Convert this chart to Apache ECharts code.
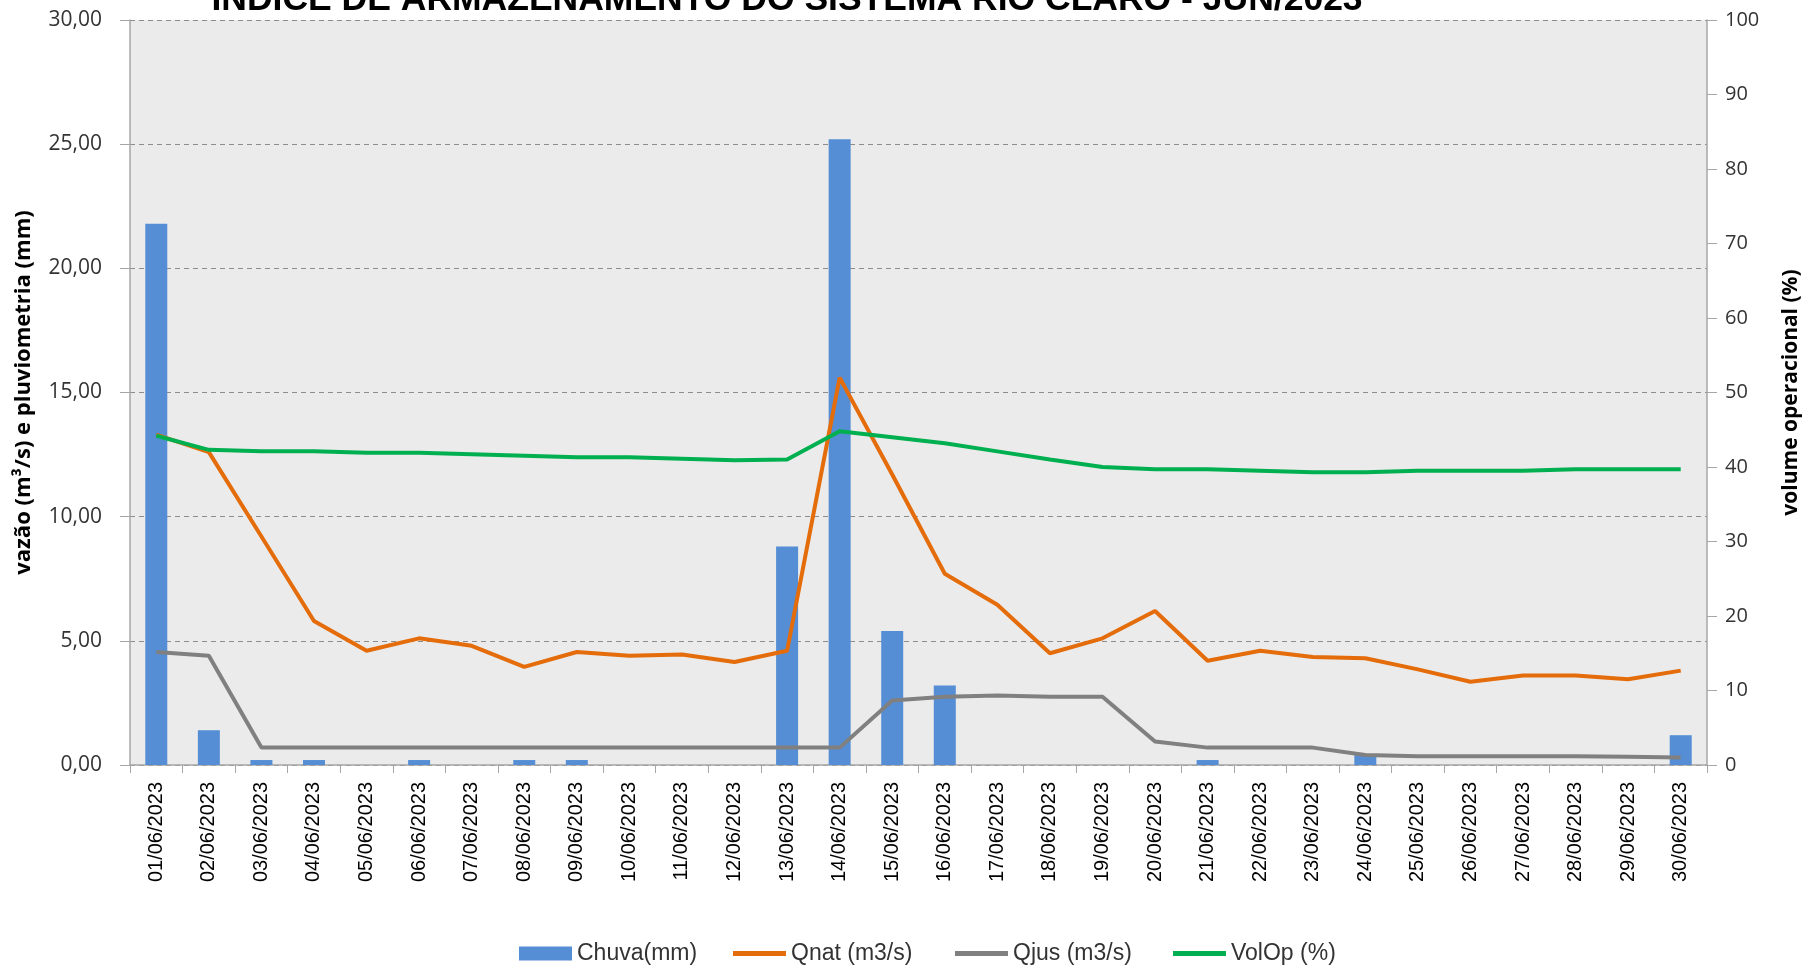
<!DOCTYPE html>
<html>
<head>
<meta charset="utf-8">
<script src="https://cdn.jsdelivr.net/npm/echarts@6/dist/echarts.min.js"></script>
<style>
    html, body { margin: 0; padding: 0; background: #fff; }
    #chart { width: 1804px; height: 968px; }
</style>
</head>
<body>
<div id="chart"></div>
<script>
var dias = ['01/06/2023', '02/06/2023', '03/06/2023', '04/06/2023', '05/06/2023', '06/06/2023',
    '07/06/2023', '08/06/2023', '09/06/2023', '10/06/2023', '11/06/2023', '12/06/2023',
    '13/06/2023', '14/06/2023', '15/06/2023', '16/06/2023', '17/06/2023', '18/06/2023',
    '19/06/2023', '20/06/2023', '21/06/2023', '22/06/2023', '23/06/2023', '24/06/2023',
    '25/06/2023', '26/06/2023', '27/06/2023', '28/06/2023', '29/06/2023', '30/06/2023'];

// chuva (mm)
var chuva = [21.8, 1.4, 0.2, 0.2, 0, 0.2, 0, 0.2, 0.2, 0, 0, 0,
    8.8, 25.2, 5.4, 3.2, 0, 0, 0, 0, 0.2, 0, 0, 0.4, 0, 0, 0, 0, 0, 1.2];
// vazao natural (m3/s)
var qnat = [13.3, 12.6, 9.2, 5.8, 4.6, 5.1, 4.8, 3.95, 4.55, 4.4, 4.45, 4.15,
    4.6, 15.6, 11.7, 7.7, 6.45, 4.5, 5.1, 6.2, 4.2, 4.6, 4.35, 4.3, 3.85, 3.35, 3.6, 3.6, 3.45, 3.8];
// vazao jusante (m3/s)
var qjus = [4.55, 4.4, 0.7, 0.7, 0.7, 0.7, 0.7, 0.7, 0.7, 0.7, 0.7, 0.7,
    0.7, 0.7, 2.6, 2.75, 2.8, 2.75, 2.75, 0.95, 0.7, 0.7, 0.7, 0.4, 0.35, 0.35, 0.35, 0.35, 0.33, 0.3];
// volume operacional (%)
var volop = [44.2, 42.3, 42.1, 42.1, 41.9, 41.9, 41.7, 41.5, 41.3, 41.3, 41.1, 40.9,
    41.0, 44.8, 44.0, 43.2, 42.1, 41.0, 40.0, 39.7, 39.7, 39.5, 39.3, 39.3, 39.5, 39.5, 39.5, 39.7, 39.7, 39.7];

var fonte = "'Liberation Sans', Arial, sans-serif";
var fonteEixo = "'Open Sans', 'Liberation Sans', sans-serif";

// legenda: uma caixa por item para poder posicionar como no excel
function legenda(nome, x, altura) {
    return {
        data: [{ name: nome, icon: 'rect' }],
        left: x,
        top: 937,
        itemWidth: 53,
        itemHeight: altura,
        itemGap: 4,
        textStyle: { fontSize: 23, color: '#333', fontFamily: fonte }
    };
}

var myChart = echarts.init(document.getElementById('chart'));
var option = {
    backgroundColor: '#FFFFFF',
    animation: false,
    textStyle: { fontFamily: fonte },
    title: {
        text: 'ÍNDICE DE ARMAZENAMENTO DO SISTEMA RIO CLARO - JUN/2023',
        left: 782,
        textAlign: 'center',
        top: -23,
        textStyle: { fontSize: 35.5, fontWeight: 'bold', color: '#000', fontFamily: fonte }
    },
    legend: [
        legenda('Chuva(mm)', 514, 14),
        legenda('Qnat (m3/s)', 728, 5),
        legenda('Qjus (m3/s)', 950, 5),
        legenda('VolOp (%)', 1168, 5)
    ],
    grid: {
        left: 130,
        right: 97,
        top: 20,
        bottom: 203,
        outerBoundsMode: 'none',
        containLabel: false,
        show: true,
        backgroundColor: '#EBEBEB',
        borderWidth: 0
    },
    xAxis: [{
        type: 'category',
        data: dias,
        boundaryGap: true,
        axisLine: { lineStyle: { color: '#A6A6A6', width: 1.5 } },
        axisTick: { show: true, alignWithLabel: false, length: 8, lineStyle: { color: '#A6A6A6' } },
        axisLabel: {
            rotate: 90,
            interval: 0,
            margin: 17,
            fontSize: 20,
            color: '#000',
            fontFamily: fonte
        }
    }],
    yAxis: [{
        type: 'value',
        min: 0,
        max: 30,
        interval: 5,
        name: 'vazão (m³/s) e pluviometria (mm)',
        nameLocation: 'middle',
        nameGap: 95,
        nameTextStyle: { fontSize: 22, fontWeight: 'bold', color: '#000', fontFamily: fonteEixo },
        axisLine: { show: true, lineStyle: { color: '#A6A6A6', width: 1.5 } },
        axisTick: { show: true, length: 10, lineStyle: { color: '#A6A6A6' } },
        splitLine: { show: true, lineStyle: { color: '#8C8C8C', type: [5, 4], width: 1 } },
        axisLabel: {
            fontSize: 21,
            margin: 28,
            color: '#333',
            fontFamily: fonteEixo,
            formatter: function (v) { return v.toFixed(2).replace('.', ','); }
        }
    }, {
        type: 'value',
        min: 0,
        max: 100,
        interval: 10,
        position: 'right',
        name: 'volume operacional (%)',
        nameLocation: 'middle',
        nameRotate: 90,
        nameGap: 74,
        nameTextStyle: { fontSize: 21, fontWeight: 'bold', color: '#000', fontFamily: fonteEixo },
        axisLine: { show: true, lineStyle: { color: '#A6A6A6', width: 1.5 } },
        axisTick: { show: true, length: 10, lineStyle: { color: '#A6A6A6' } },
        splitLine: { show: false },
        axisLabel: { fontSize: 20, margin: 18, color: '#333', fontFamily: fonteEixo }
    }],
    series: [{
        name: 'Chuva(mm)',
        type: 'bar',
        yAxisIndex: 0,
        barWidth: 22,
        itemStyle: { color: '#558ED5' },
        data: chuva
    }, {
        name: 'Qnat (m3/s)',
        type: 'line',
        yAxisIndex: 0,
        symbol: 'none',
        lineStyle: { color: '#E46C0A', width: 4 },
        itemStyle: { color: '#E46C0A' },
        data: qnat
    }, {
        name: 'Qjus (m3/s)',
        type: 'line',
        yAxisIndex: 0,
        symbol: 'none',
        lineStyle: { color: '#808080', width: 4 },
        itemStyle: { color: '#808080' },
        data: qjus
    }, {
        name: 'VolOp (%)',
        type: 'line',
        yAxisIndex: 1,
        symbol: 'none',
        lineStyle: { color: '#00B050', width: 4 },
        itemStyle: { color: '#00B050' },
        data: volop
    }]
};
myChart.setOption(option);
</script>
</body>
</html>
